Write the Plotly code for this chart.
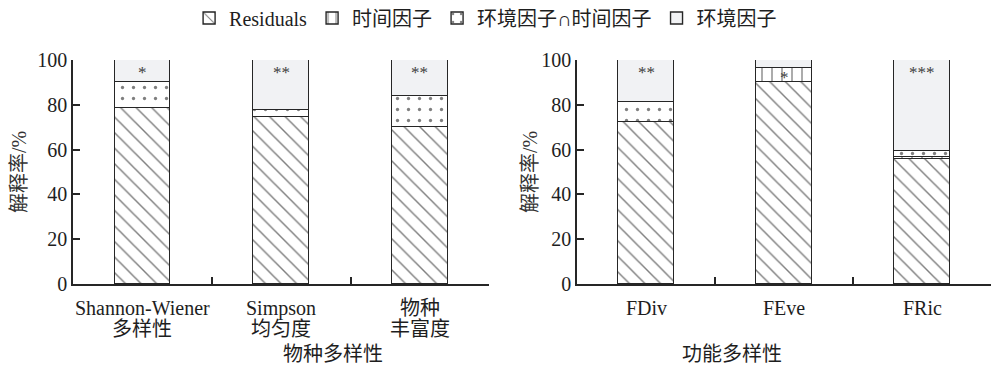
import plotly.graph_objects as go

# Variance partitioning of diversity indices (% explained)
species_labels = ["Shannon-Wiener<br>多样性", "Simpson<br>均匀度", "物种<br>丰富度"]
species_resid = [78.6, 74.7, 70.0]
species_time = [0.0, 0.0, 0.0]
species_inter = [11.4, 3.0, 14.0]
species_env = [10.0, 22.3, 16.0]
species_sig_env = ["*", "**", "**"]
species_sig_time = ["", "", ""]

func_labels = ["FDiv", "FEve", "FRic"]
func_resid = [72.2, 90.0, 55.7]
func_time = [0.0, 6.3, 1.2]
func_inter = [9.1, 0.0, 2.5]
func_env = [18.7, 3.7, 40.6]
func_sig_env = ["**", "", "***"]
func_sig_time = ["", "*", ""]

series_names = ["Residuals", "时间因子", "环境因子∩时间因子", "环境因子"]
group_titles = ["物种多样性", "功能多样性"]
y_ticks = [0, 20, 40, 60, 80, 100]
y_title = "解释率/%"

FONT = "Liberation Serif, Times New Roman, Noto Sans CJK SC, serif"
FS = 20
LINE = "#262626"
TEXT = "#1e1e1e"
ENV_FILL = "#f1f2f4"
H = 367.0

patterns = [
    dict(shape="\\", size=11, solidity=0.13, fgcolor="#000000", bgcolor="white"),
    dict(shape="|", size=10, solidity=0.13, fgcolor="#000000", bgcolor="white"),
    dict(shape=".", size=11, solidity=0.07, fgcolor="#000000", bgcolor="white"),
    None,
]

fig = go.Figure()

panels = [
    ("x", "y", species_labels, [species_resid, species_time, species_inter, species_env],
     species_sig_env, species_sig_time, True),
    ("x2", "y2", func_labels, [func_resid, func_time, func_inter, func_env],
     func_sig_env, func_sig_time, False),
]

for xa, ya, labels, series, sig_env, sig_time, show in panels:
    xs = list(range(len(labels)))
    for i, (name, vals) in enumerate(zip(series_names, series)):
        marker = dict(line=dict(color=LINE, width=1.4))
        if patterns[i]:
            marker["color"] = "white"
            marker["pattern"] = patterns[i]
        else:
            marker["color"] = ENV_FILL
        # empty shares are left out so they draw no outline
        shown = [v if v > 0 else None for v in vals]
        fig.add_trace(go.Bar(
            x=xs, y=shown, name=name, xaxis=xa, yaxis=ya,
            width=0.4, marker=marker, legendgroup=name, showlegend=show,
            hoverinfo="skip",
        ))

    # category labels below the axis, one annotation per line for tight spacing
    for x, lab in zip(xs, labels):
        for k, line in enumerate(lab.split("<br>")):
            fig.add_annotation(x=x, y=1 - (308 + 21 * k) / H, xref=xa, yref="paper",
                               text=line, showarrow=False, yanchor="middle",
                               font=dict(family=FONT, size=FS, color=TEXT))

    # significance marks: environment share at the top, time share mid-segment
    resid, time_part, inter, env = series
    for x, s in zip(xs, sig_env):
        if s:
            top = resid[x] + time_part[x] + inter[x] + env[x]
            fig.add_annotation(x=x, y=top, xref=xa, yref=ya, text=s,
                               showarrow=False, yanchor="top", yshift=-1,
                               font=dict(family=FONT, size=17, color="#404040"))
    for x, s in zip(xs, sig_time):
        if s:
            mid = resid[x] + time_part[x] / 2
            fig.add_annotation(x=x, y=mid, xref=xa, yref=ya, text=s,
                               showarrow=False, yanchor="middle", yshift=-2,
                               font=dict(family=FONT, size=17, color="#404040"))

x_common = dict(range=[-0.5, 2.5], tickvals=[0.5, 1.5, 2.5], ticktext=["", "", ""],
                ticks="inside", ticklen=7, tickcolor=LINE, tickwidth=1.5,
                showline=True, linecolor=LINE, linewidth=1.5, automargin=False,
                showgrid=False, zeroline=False, fixedrange=True)
y_common = dict(range=[0, 100], tickvals=y_ticks, ticks="inside", ticklen=7,
                tickcolor=LINE, tickwidth=1.5, showline=True, linecolor=LINE,
                linewidth=1.5, showgrid=False, zeroline=False, automargin=False,
                fixedrange=True, tickfont=dict(family=FONT, size=FS, color=TEXT))

y_dom = [1 - 284 / H, 1 - 60 / H]
left_dom = [73 / 991, 489.3 / 991]
right_dom = [577 / 991, 1.0]

fig.update_layout(
    width=991, height=367, autosize=False,
    margin=dict(l=0, r=0, t=0, b=0, pad=0, autoexpand=False),
    paper_bgcolor="white", plot_bgcolor="white",
    barmode="stack", bargap=0,
    font=dict(family=FONT, size=FS, color=TEXT),
    xaxis=dict(domain=left_dom, anchor="y", **x_common),
    yaxis=dict(domain=y_dom, anchor="x", **y_common),
    xaxis2=dict(domain=right_dom, anchor="y2", **x_common),
    yaxis2=dict(domain=y_dom, anchor="x2", **y_common),
    legend=dict(orientation="h", x=0.49, xanchor="center", y=1 - 18 / H,
                yanchor="middle", font=dict(family=FONT, size=FS, color=TEXT),
                itemwidth=30, traceorder="normal", bgcolor="rgba(0,0,0,0)",
                tracegroupgap=0),
)

# group titles and y-axis titles
for dom, title in zip([left_dom, right_dom], group_titles):
    fig.add_annotation(x=(dom[0] + dom[1]) / 2, y=1 - 354 / H, xref="paper",
                       yref="paper", text=title, showarrow=False,
                       yanchor="middle", font=dict(family=FONT, size=FS, color=TEXT))
for xc in [19, 530]:
    fig.add_annotation(x=xc / 991, y=1 - 172 / H, xref="paper", yref="paper",
                       text=y_title, showarrow=False, textangle=-90,
                       xanchor="center", yanchor="middle",
                       font=dict(family=FONT, size=FS, color="#333"))

fig.write_html("out.html")
